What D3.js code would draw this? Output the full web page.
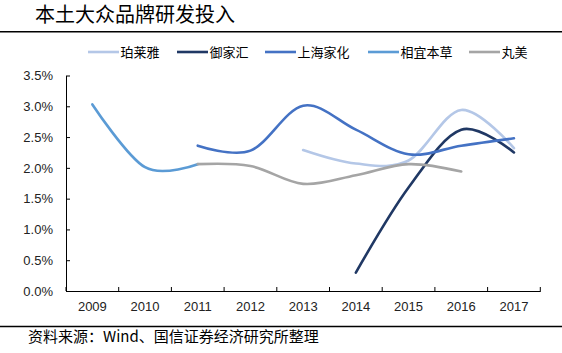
<!DOCTYPE html>
<html><head><meta charset="utf-8">
<script src="https://cdn.jsdelivr.net/npm/d3@7"></script>
<style>
html,body{margin:0;padding:0;background:#fff;}
svg{display:block;}
</style></head>
<body>
<svg id="c" width="562" height="353"></svg>
<script>
const years = ["2009","2010","2011","2012","2013","2014","2015","2016","2017"];
const seriesNames = ["珀莱雅","御家汇","上海家化","相宜本草","丸美"];
const seriesColors = ["#B4C7E7","#203864","#4472C4","#5B9BD5","#A5A5A5"];
// values in %, null = no data
const proya     = [null,null,null,null,2.29,2.07,2.12,2.94,2.32];
const yujiahui  = [null,null,null,null,null,0.30,1.68,2.62,2.25];
const jahwa     = [null,null,2.36,2.28,3.01,2.62,2.22,2.36,2.48];
const inoherb   = [3.03,2.01,2.06,null,null,null,null,null,null];
const marubi    = [null,null,2.06,2.03,1.74,1.88,2.06,1.94,null];
const yTicks = [0,0.5,1.0,1.5,2.0,2.5,3.0,3.5];
const titleText = "本土大众品牌研发投入";
const sourceText = "资料来源：Wind、国信证券经济研究所整理";

const allSeries = [proya, yujiahui, jahwa, inoherb, marubi];

const svg = d3.select("#c");
const pLeft = 66, pRight = 540.3, pTop = 75.5, pBottom = 291;

const x = d3.scaleBand().domain(years).range([pLeft, pRight]).padding(0);
const y = d3.scaleLinear().domain([0, 3.5]).range([pBottom, pTop]);

// title
svg.append("text").attr("x", 35).attr("y", 21.5)
  .attr("font-family", "'Noto Sans CJK SC'").attr("font-size", 20)
  .attr("fill", "#000").text(titleText);
svg.append("line").attr("x1", 0).attr("x2", 562).attr("y1", 31.8).attr("y2", 31.8)
  .attr("stroke", "#000").attr("stroke-width", 1.5);

// bottom rule & source
svg.append("line").attr("x1", 0).attr("x2", 562).attr("y1", 326.5).attr("y2", 326.5)
  .attr("stroke", "#000").attr("stroke-width", 1.5);
svg.append("text").attr("x", 28).attr("y", 342)
  .attr("font-family", "'Noto Sans CJK SC'").attr("font-size", 15)
  .attr("fill", "#000").text(sourceText);

// axes
const yAxis = d3.axisLeft(y).tickValues(yTicks).tickFormat(d => d.toFixed(1) + "%")
  .tickSizeInner(-4).tickSizeOuter(0).tickPadding(13);
const gy = svg.append("g").attr("transform", `translate(${pLeft},0)`).call(yAxis);
gy.select(".domain").attr("stroke", "#000");
gy.selectAll(".tick line").attr("stroke", "#000");
gy.selectAll("text").attr("font-family", "'Liberation Sans', Arial").attr("font-size", 13).attr("fill", "#222");

const xAxis = d3.axisBottom(x).tickSize(0).tickPadding(11);
const gx = svg.append("g").attr("transform", `translate(0,${pBottom})`).call(xAxis);
gx.select(".domain").attr("stroke", "#000");
gx.selectAll("text").attr("font-family", "'Liberation Sans', Arial").attr("font-size", 13).attr("fill", "#222");
// category boundary ticks (pointing up)
const bounds = years.map(d => x(d)).concat([pRight]);
gx.selectAll(".bt").data(bounds).enter().append("line")
  .attr("x1", d => d).attr("x2", d => d).attr("y1", 0).attr("y2", -4)
  .attr("stroke", "#000");

// lines
const line = d3.line()
  .defined(d => d.v !== null)
  .x(d => x(d.year) + x.bandwidth() / 2)
  .y(d => y(d.v))
  .curve(d3.curveCardinal.tension(0));

allSeries.forEach((vals, i) => {
  const pts = years.map((yr, j) => ({year: yr, v: vals[j]}));
  svg.append("path").datum(pts).attr("d", line)
    .attr("fill", "none").attr("stroke", seriesColors[i])
    .attr("stroke-width", 2.6).attr("stroke-linecap", "round");
});

// legend
const legendX = [88, 177, 265, 368, 469];
const lg = svg.append("g");
seriesNames.forEach((name, i) => {
  lg.append("line").attr("x1", legendX[i]).attr("x2", legendX[i] + 31)
    .attr("y1", 52).attr("y2", 52).attr("stroke", seriesColors[i]).attr("stroke-width", 2.6);
  lg.append("text").attr("x", legendX[i] + 32.5).attr("y", 56.5)
    .attr("font-family", "'Noto Sans CJK SC'").attr("font-size", 13)
    .attr("fill", "#000").text(name);
});
</script>
</body></html>
